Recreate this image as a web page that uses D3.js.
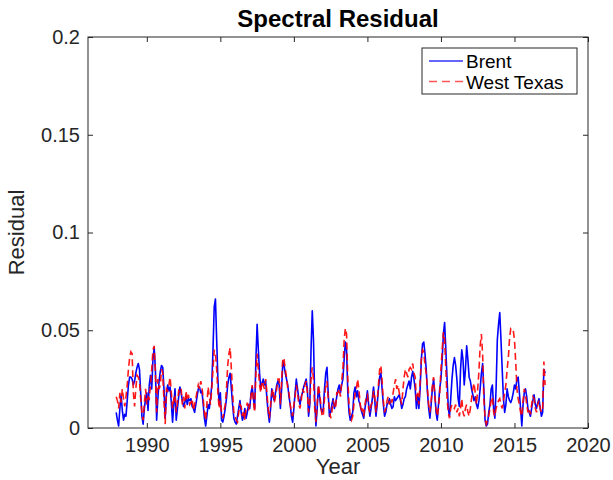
<!DOCTYPE html>
<html>
<head>
<meta charset="utf-8">
<script src="https://cdn.jsdelivr.net/npm/d3@7"></script>
<style>
  html, body { margin: 0; padding: 0; background: #fff; }
  svg { display: block; font-family: "Liberation Sans", Arial, Helvetica, sans-serif; }
</style>
</head>
<body>
<svg id="chart" width="613" height="480"></svg>
<script>
// ---- data (monthly, starting Dec 1987) ----
const startYear = 1987 + 11 / 12;
const brent = [
  .008,
  .004, .001, .010, .017, .009, .004, .007, .006, .014, .022, .026, .026,
  .025, .022, .024, .028, .031, .033, .030, .018, .006, .002, .010, .015,
  .018, .009, .022, .027, .020, .035, .041, .030, .004, .015, .024, .029,
  .032, .031, .020, .005, .017, .022, .019, .021, .013, .003, .012, .020,
  .004, .010, .016, .021, .018, .014, .011, .013, .016, .012, .015, .014,
  .015, .011, .010, .008, .012, .016, .020, .021, .018, .019, .012, .005,
  .001, .006, .012, .010, .015, .022, .040, .062, .066, .045, .025, .012,
  .018, .004, .003, .006, .010, .015, .022, .026, .028, .020, .012, .005,
  .003, .002, .006, .010, .014, .008, .004, .006, .010, .005, .008, .012,
  .010, .018, .021, .015, .010, .035, .053, .040, .028, .020, .023, .025,
  .022, .024, .015, .008, .003, .010, .020, .016, .014, .018, .022, .024,
  .022, .010, .020, .034, .032, .028, .025, .022, .016, .012, .006, .003,
  .010, .018, .025, .020, .015, .012, .016, .018, .021, .023, .025, .020,
  .006, .012, .040, .060, .045, .015, .001, .010, .021, .016, .010, .008,
  .010, .020, .028, .031, .018, .006, .008, .012, .015, .010, .012, .016,
  .020, .022, .018, .022, .025, .035, .044, .040, .018, .008, .004, .006,
  .008, .018, .021, .016, .019, .014, .012, .009, .007, .005, .010, .014,
  .019, .012, .006, .010, .015, .021, .014, .006, .012, .020, .026, .028,
  .020, .012, .006, .008, .012, .013, .015, .012, .010, .011, .016, .014,
  .015, .016, .017, .014, .010, .012, .015, .016, .020, .022, .024, .020,
  .026, .029, .025, .020, .010, .017, .010, .020, .035, .043, .044, .038,
  .030, .018, .010, .005, .012, .020, .025, .018, .008, .004, .012, .020,
  .025, .035, .048, .054, .040, .025, .010, .006, .015, .025, .032, .036,
  .032, .025, .015, .011, .030, .040, .035, .022, .030, .042, .035, .026,
  .024, .020, .017, .014, .016, .012, .010, .014, .020, .028, .033, .020,
  .004, .001, .002, .008, .012, .020, .022, .010, .005, .020, .045, .053,
  .059, .045, .030, .015, .008, .012, .020, .016, .014, .013, .015, .018,
  .022, .020, .025, .026, .018, .010, .001, .012, .018, .020, .016, .010,
  .008, .006, .010, .014, .017, .012, .010, .013, .015, .010, .006, .008,
  .030, .028
];
const westTexas = [
  .016,
  .014, .010, .018, .013, .020, .015, .011, .016, .022, .030, .036, .039,
  .038, .018, .011, .020, .027, .026, .024, .015, .008, .004, .013, .020,
  .012, .016, .015, .022, .030, .040, .042, .028, .008, .025, .020, .022,
  .030, .028, .014, .002, .020, .019, .022, .026, .018, .010, .015, .017,
  .008, .013, .019, .018, .020, .012, .016, .010, .019, .014, .017, .012,
  .013, .015, .009, .012, .015, .019, .022, .020, .024, .021, .015, .008,
  .004, .012, .021, .016, .012, .020, .030, .040, .038, .030, .018, .010,
  .014, .008, .005, .009, .012, .020, .032, .038, .041, .030, .018, .008,
  .006, .004, .003, .008, .012, .011, .006, .009, .004, .010, .013, .009,
  .012, .016, .022, .013, .008, .028, .038, .030, .022, .018, .024, .022,
  .020, .025, .018, .010, .005, .012, .018, .020, .013, .016, .020, .025,
  .025, .012, .024, .036, .035, .030, .026, .020, .018, .012, .008, .006,
  .012, .016, .022, .018, .012, .010, .014, .020, .018, .022, .024, .018,
  .008, .014, .025, .031, .025, .010, .003, .012, .022, .018, .012, .006,
  .006, .015, .022, .024, .015, .010, .005, .008, .014, .012, .010, .018,
  .018, .020, .016, .024, .030, .045, .051, .048, .025, .012, .006, .004,
  .006, .012, .018, .020, .025, .020, .013, .008, .010, .006, .012, .016,
  .017, .010, .008, .012, .013, .019, .016, .008, .014, .022, .030, .032,
  .024, .014, .008, .010, .014, .016, .012, .015, .013, .018, .022, .025,
  .020, .022, .018, .015, .012, .020, .026, .030, .028, .026, .030, .031,
  .030, .033, .028, .026, .014, .018, .012, .024, .035, .040, .039, .032,
  .028, .020, .012, .008, .014, .022, .026, .016, .010, .006, .010, .018,
  .030, .040, .049, .045, .030, .015, .008, .005, .010, .012, .011, .010,
  .012, .008, .010, .006, .010, .015, .008, .006, .010, .012, .008, .006,
  .010, .015, .020, .023, .018, .012, .020, .029, .042, .048, .038, .015,
  .005, .002, .004, .006, .010, .014, .016, .008, .006, .010, .012, .014,
  .015, .012, .010, .014, .018, .022, .030, .036, .046, .051, .051, .050,
  .045, .034, .020, .015, .012, .008, .006, .014, .020, .017, .012, .008,
  .010, .007, .012, .016, .015, .010, .008, .012, .014, .010, .008, .010,
  .034, .022
];
const xTicks = [1990, 1995, 2000, 2005, 2010, 2015, 2020];
const yTicks = [0, 0.05, 0.1, 0.15, 0.2];
const yTickLabels = ["0", "0.05", "0.1", "0.15", "0.2"];
const seriesNames = ["Brent", "West Texas"];

// ---- drawing ----
const svg = d3.select("#chart");
const L = 88, R = 588, T = 37, B = 428;
const x = d3.scaleLinear().domain([1986, 2020]).range([L, R]);
const y = d3.scaleLinear().domain([0, 0.2]).range([B, T]);
const axisColor = "#262626";

const toPts = arr => arr.map((v, i) => [startYear + i / 12, v]);
const line = d3.line().x(d => x(d[0])).y(d => y(d[1]));

const g = svg.append("g");

g.append("path").datum(toPts(brent))
  .attr("d", line).attr("fill", "none")
  .attr("stroke", "#0000ff").attr("stroke-width", 1.6)
  .attr("stroke-linejoin", "round");

g.append("path").datum(toPts(westTexas))
  .attr("d", line).attr("fill", "none")
  .attr("stroke", "#ff0000").attr("stroke-width", 1.6)
  .attr("stroke-dasharray", "7,4").attr("stroke-opacity", 0.9);

function styleAxis(sel, showText) {
  sel.select(".domain").remove();
  sel.selectAll(".tick line").attr("stroke", axisColor);
  sel.selectAll(".tick text").attr("fill", axisColor)
    .style("font-size", "20px")
    .style("display", showText ? null : "none");
}

svg.append("g").attr("transform", `translate(0,${B})`)
  .call(d3.axisBottom(x).tickValues(xTicks).tickFormat(d3.format("d")).tickSize(-5).tickPadding(10))
  .call(s => styleAxis(s, true));
svg.append("g").attr("transform", `translate(0,${T})`)
  .call(d3.axisTop(x).tickValues(xTicks).tickSize(-5))
  .call(s => styleAxis(s, false));
svg.append("g").attr("transform", `translate(${L},0)`)
  .call(d3.axisLeft(y).tickValues(yTicks).tickFormat((d, i) => yTickLabels[i]).tickSize(-5).tickPadding(8))
  .call(s => styleAxis(s, true));
svg.append("g").attr("transform", `translate(${R},0)`)
  .call(d3.axisRight(y).tickValues(yTicks).tickSize(-5))
  .call(s => styleAxis(s, false));

svg.append("rect").attr("x", L).attr("y", T).attr("width", R - L).attr("height", B - T)
  .attr("fill", "none").attr("stroke", axisColor).attr("stroke-width", 1);

// title & labels
svg.append("text").attr("x", (L + R) / 2).attr("y", 27)
  .attr("text-anchor", "middle").attr("font-weight", "bold")
  .style("font-size", "24px").attr("fill", "#000").text("Spectral Residual");
svg.append("text").attr("x", (L + R) / 2).attr("y", 474)
  .attr("text-anchor", "middle").style("font-size", "22px")
  .attr("fill", axisColor).text("Year");
svg.append("text").attr("transform", `translate(24,${(T + B) / 2}) rotate(-90)`)
  .attr("text-anchor", "middle").style("font-size", "22px")
  .attr("fill", axisColor).text("Residual");

// legend
const lg = svg.append("g");
lg.append("rect").attr("x", 422).attr("y", 48).attr("width", 155).attr("height", 46)
  .attr("fill", "#fff").attr("stroke", "#262626").attr("stroke-width", 1);
const lgColors = ["#3333ff", "#ff5555"];
const lgDash = [null, "8,5"];
seriesNames.forEach((name, i) => {
  const yy = 61 + i * 20.5;
  lg.append("line").attr("x1", 429).attr("x2", 463).attr("y1", yy).attr("y2", yy)
    .attr("stroke", lgColors[i]).attr("stroke-width", 1.5)
    .attr("stroke-dasharray", lgDash[i]);
  lg.append("text").attr("x", 466).attr("y", yy + 7)
    .style("font-size", "19px").attr("fill", "#000").text(name);
});
</script>
</body>
</html>
